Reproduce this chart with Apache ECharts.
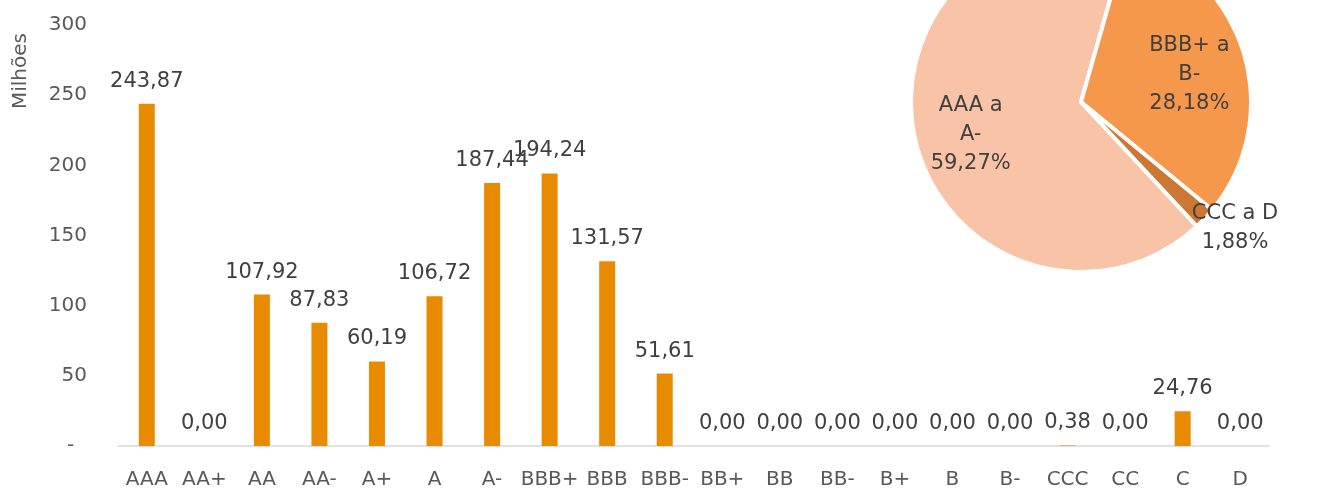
<!DOCTYPE html>
<html><head><meta charset="utf-8">
<script src="https://cdn.jsdelivr.net/npm/echarts@6/dist/echarts.min.js"></script>
<style>html,body{margin:0;padding:0;background:#fff}#c{width:1317px;height:490px}</style>
</head><body><div id="c"></div>
<script>
const categories = ['AAA','AA+','AA','AA-','A+','A','A-','BBB+','BBB','BBB-','BB+','BB','BB-','B+','B','B-','CCC','CC','C','D'];
const values = [243.87,0,107.92,87.83,60.19,106.72,187.44,194.24,131.57,51.61,0,0,0,0,0,0,0.38,0,24.76,0];
const yTicks = [0,50,100,150,200,250,300];
const pieNames = ['AAA a\nA-','BBB+ a\nB-','CCC a D'];
const pieValues = [59.27,28.18,1.88];
const pieColors = ['#F8C3A6','#F5984B','#CC7734'];
const yAxisTitle = 'Milhões';

const font = 'DejaVu Sans';
const fmt = v => v.toFixed(2).replace('.', ',');
const pieData = pieNames.map((n,i)=>({name:n, value:pieValues[i], itemStyle:{color:pieColors[i]}}));

const chart = echarts.init(document.getElementById('c'));
chart.setOption({
  animation:false,
  textStyle:{fontFamily:font},
  grid:{left:118,right:48,top:25,bottom:42,containLabel:false},
  xAxis:{type:'category',data:categories,
    axisLine:{lineStyle:{color:'#D9D9D9',width:1.5}},axisTick:{show:false},
    axisLabel:{color:'#595959',fontSize:20,fontFamily:font,margin:24,interval:0}},
  yAxis:{type:'value',min:yTicks[0],max:yTicks[yTicks.length-1],interval:50,
    splitLine:{show:false},axisLine:{show:false},axisTick:{show:false},
    axisLabel:{color:'#595959',fontSize:20,fontFamily:font,margin:31,
      formatter:v=>v===0?'-  ':String(v)}},
  graphic:[{type:'text',x:21,y:71,rotation:Math.PI/2,
    style:{text:yAxisTitle,fill:'#595959',font:'20px "DejaVu Sans"',align:'center',verticalAlign:'middle'}}],
  series:[
    {type:'bar',data:values,barWidth:16,itemStyle:{color:'#E88B00'},
      label:{show:true,position:'top',distance:12,color:'#404040',fontSize:21,fontFamily:font,
        formatter:p=>fmt(p.value)}},
    {type:'pie',center:[1081,102],radius:[0,170],startAngle:313,clockwise:true,silent:true,
      data:pieData,label:{show:false},labelLine:{show:false},
      itemStyle:{borderColor:'#fff',borderWidth:4}},
    {type:'pie',center:[1081,108],radius:[100,121],startAngle:313,clockwise:true,silent:true,
      data:pieData.map((d,i)=>({name:d.name,value:d.value,itemStyle:{color:'rgba(0,0,0,0)'},
        label:{show:i<2}})),
      itemStyle:{borderWidth:0},labelLine:{show:false},
      label:{position:'inside',color:'#404040',fontSize:21,fontFamily:font,lineHeight:29,
        formatter:p=>p.name+'\n'+fmt(p.value)+'%'}},
    {type:'pie',center:[1090,92],radius:[187,205],startAngle:313,clockwise:true,silent:true,
      data:pieData.map((d,i)=>({name:d.name,value:d.value,itemStyle:{color:'rgba(0,0,0,0)'},
        label:{show:i===2}})),
      itemStyle:{borderWidth:0},labelLine:{show:false},
      label:{position:'inside',color:'#404040',fontSize:21,fontFamily:font,lineHeight:29,
        formatter:p=>p.name+'\n'+fmt(p.value)+'%'}}
  ]
});
</script></body></html>
